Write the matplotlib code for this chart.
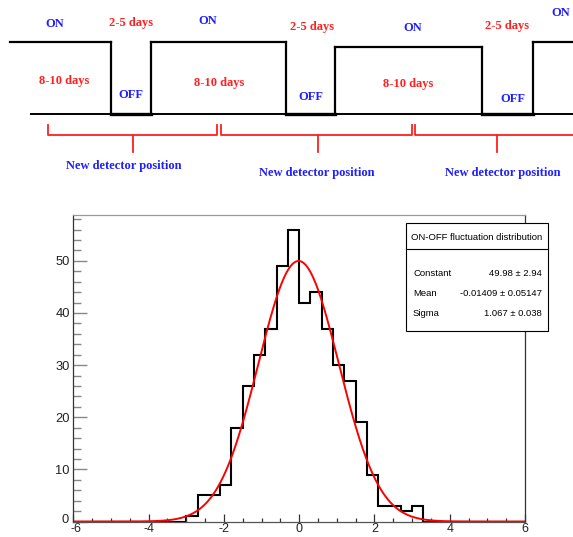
import numpy as np
import matplotlib
matplotlib.use("Agg")
from matplotlib import pyplot as plt
from matplotlib import transforms
from matplotlib.patches import Rectangle
from matplotlib.lines import Line2D

plt.rcParams["axes.unicode_minus"] = False

# histogram of ON-OFF fluctuations, 40 bins from -6 to 6
x_lo, x_hi, n_bins = -6.0, 6.0, 40
counts = [0, 0, 0, 0, 0, 0, 0, 0, 0, 0,
          1, 5, 5, 7, 18, 26, 32, 37, 49, 56,
          42, 44, 37, 30, 27, 19, 9, 3, 3, 2,
          3, 0, 0, 0, 0, 0, 0, 0, 0, 0]

# gaussian fit result
fit_const, fit_mean, fit_sigma = 49.98, -0.01409, 1.067
stat_names = ["Constant", "Mean", "Sigma"]
stat_values = ["49.98 \u00b1 2.94", "-0.01409 \u00b1 0.05147", "1.067 \u00b1 0.038"]
stats_title = "ON-OFF fluctuation distribution"

x_ticks = [-6, -4, -2, 0, 2, 4, 6]
y_ticks = [0, 10, 20, 30, 40, 50]

# schematic of the ON/OFF cycle (pixel coordinates of the sketch)
on_spans = [(10, 111), (151, 286), (335, 482), (533, 573)]
on_tops = [42, 42, 47, 42]
off_spans = [(111, 151), (286, 335), (482, 533)]
base_y = 114
base_start = 31
braces = [(48, 217), (221, 412), (415, 600)]
brace_mids = [133, 318, 497]
on_labels = [(55, 24), (208, 21), (413, 28), (561, 13)]
off_labels = [(131, 95), (311, 97), (513, 99)]
short_labels = [(131, 23), (312, 27), (507, 26)]
long_labels = [(64, 81), (219, 83), (408, 84)]
pos_labels = [(124, 166), (317, 173), (503, 173)]

W, H = 573, 537
fig = plt.figure(figsize=(W / 100, H / 100), dpi=100)

# --- top sketch ---
sk = fig.add_axes([0, 1 - 195 / H, 1, 195 / H])
sk.set_xlim(0, W)
sk.set_ylim(195, 0)
sk.axis("off")

blue = "#1f1fff"
red = "#ff2020"
serif = "Liberation Serif"

sk.plot([base_start, W], [base_y, base_y], color="black", lw=1.4)
for i, ((a, b), top) in enumerate(zip(on_spans, on_tops)):
    sk.plot([a, b], [top, top], color="black", lw=1.6)
    if i > 0:
        sk.plot([a, a], [top, base_y], color="black", lw=1.6)
    if b < W:
        sk.plot([b, b], [top, base_y], color="black", lw=1.6)
for a, b in off_spans:
    sk.plot([a, b], [base_y, base_y], color="black", lw=2.4)

for (a, b), m in zip(braces, brace_mids):
    sk.plot([a, a, b, b], [125, 135, 135, 125], color=red, lw=1.3)
    sk.plot([m, m], [135, 152], color=red, lw=1.3)

txt = dict(family=serif, weight="bold", size=9, ha="center", va="center")
for x, y in on_labels:
    sk.text(x, y, "ON", color=blue, **txt)
for x, y in off_labels:
    sk.text(x, y, "OFF", color=blue, **txt)
for x, y in short_labels:
    sk.text(x, y, "2-5 days", color=red, **txt)
for x, y in long_labels:
    sk.text(x, y, "8-10 days", color=red, **txt)
for x, y in pos_labels:
    sk.text(x, y, "New detector position", color=blue, **txt)

# --- histogram ---
y_base = 521.5
ax = fig.add_axes([73.3 / W, 1 - y_base / H, (525 - 73.3) / W, (y_base - 215) / H])
edges = np.linspace(x_lo, x_hi, n_bins + 1)
ax.stairs(counts, edges, color="black", lw=1.5)

xf = np.linspace(x_lo, x_hi, 600)
yf = fit_const * np.exp(-0.5 * ((xf - fit_mean) / fit_sigma) ** 2)
ax.plot(xf, yf, color="red", lw=1.4)

ax.set_xlim(x_lo, x_hi)
ax.set_ylim(0, 1.05 * max(counts))
ax.set_xticks(x_ticks)
ax.set_yticks(y_ticks)
ax.set_xticks(np.arange(x_lo, x_hi + 0.01, 0.5), minor=True)
ax.set_yticks(np.arange(0, 59, 2), minor=True)
ax.tick_params(axis="x", which="major", direction="in", length=6, width=0.9,
               color="#333333", pad=1.0, labelsize=9.0)
ax.tick_params(axis="x", which="minor", direction="in", length=3, width=0.9,
               color="#333333")
ax.tick_params(axis="y", which="major", direction="in", length=10, width=1.0,
               color="#888888", pad=2.5, labelsize=9.3)
ax.tick_params(axis="y", which="minor", direction="in", length=5.5, width=1.0,
               color="#888888")
for lab in ax.get_xticklabels() + ax.get_yticklabels():
    lab.set_family("Liberation Sans")
    lab.set_color("#222222")
# the "0" and "-6" labels sit at the same corner; nudge them apart a little
first_x = ax.get_xticklabels()[0]
first_x.set_transform(first_x.get_transform()
                      + transforms.ScaledTranslation(3 / 100, 0, fig.dpi_scale_trans))
first_y = ax.get_yticklabels()[0]
first_y.set_transform(first_y.get_transform()
                      + transforms.ScaledTranslation(-1 / 100, 3 / 100, fig.dpi_scale_trans))
ax.spines["top"].set_color("#999999")
ax.spines["right"].set_color("#333333")
ax.spines["left"].set_color("#333333")
ax.spines["bottom"].set_color("#555555")
for s in ax.spines.values():
    s.set_linewidth(0.9)

# --- stats box ---
bx0, bx1, by0, by1 = 406, 548, 223, 331
fig.add_artist(Rectangle((bx0 / W, 1 - by1 / H), (bx1 - bx0) / W, (by1 - by0) / H,
                         transform=fig.transFigure, facecolor="white",
                         edgecolor="black", lw=0.8, zorder=5))
fig.add_artist(Line2D([bx0 / W, bx1 / W], [1 - 249 / H, 1 - 249 / H],
                      transform=fig.transFigure, color="black", lw=0.8, zorder=6))
sans = dict(family="Liberation Sans", size=6.8, va="center", zorder=7)
fig.text((bx0 + bx1) / 2 / W, 1 - 237.5 / H, stats_title, ha="center", **sans)
for i, (name, val) in enumerate(zip(stat_names, stat_values)):
    yy = 1 - (274 + 20 * i) / H
    fig.text(413 / W, yy, name, ha="left", **sans)
    fig.text(542 / W, yy, val, ha="right", **sans)

fig.savefig("out.png", dpi=100)
